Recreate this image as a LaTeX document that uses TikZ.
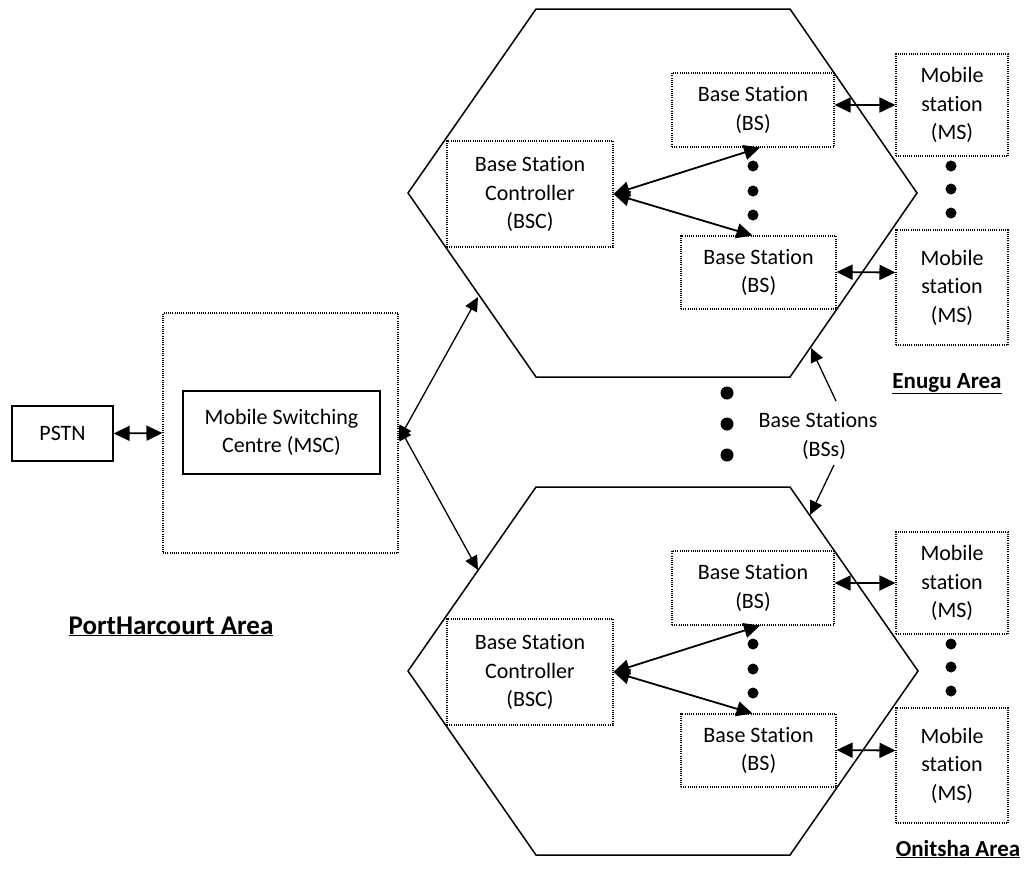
\documentclass[tikz,border=0pt]{standalone}
\usepackage{fontspec}
\setmainfont[Ligatures=NoCommon]{Carlito}
\usetikzlibrary{arrows.meta}
\tikzset{
  box/.style={draw, dash pattern=on 1pt off 1.2pt, line width=1.1pt, inner sep=0pt, align=center,
    font=\fontsize{22}{28.5}\selectfont},
  solidbox/.style={draw, line width=1.3pt, inner sep=0pt, align=center,
    font=\fontsize{22}{28.5}\selectfont},
  hex/.style={line width=1.5pt, line join=miter},
  conn/.style={line width=1.8pt, {Triangle[length=16pt,width=15pt]}-{Triangle[length=16pt,width=15pt]}},
  thinconn/.style={line width=1.3pt, {Triangle[length=14pt,width=13pt]}-{Triangle[length=14pt,width=13pt]}},
  tipconn/.style={line width=1.3pt, -{Triangle[length=14pt,width=13pt]}},
  bigdot/.style={circle, fill, inner sep=0pt, minimum size=13pt},
  smalldot/.style={circle, fill, inner sep=0pt, minimum size=11pt},
  area/.style={inner sep=0pt, font=\bfseries\fontsize{23}{28}\selectfont},
  lbl/.style={inner sep=0pt, align=center, font=\fontsize{22}{28.5}\selectfont}
}
\begin{document}
\begin{tikzpicture}[x=1pt,y=-1pt]
\useasboundingbox (0,0) rectangle (1024,873);

% hexagons
\draw[hex] (536,9) -- (790,9) -- (917,193) -- (790,377) -- (536,377) -- (408,193) -- cycle;
\draw[hex] (536,487) -- (790,487) -- (918,671) -- (790,855) -- (536,855) -- (408,671) -- cycle;

% left side
\node[solidbox, minimum width=101pt, minimum height=55pt] (pstn) at (62.5,433.5) {PSTN};
\node[box, minimum width=235pt, minimum height=240pt] (mscarea) at (280.5,433) {};
\node[solidbox, minimum width=197pt, minimum height=83pt] (msc) at (281.5,432.5) {Mobile Switching\\Centre (MSC)};
\node[area, anchor=base] (ph) at (171,634) {\fontsize{27}{30}\selectfont\underline{PortHarcourt Area}};

% top cell
\node[box, minimum width=166pt, minimum height=106pt] (bsc1) at (530,194) {Base Station\\Controller\\(BSC)};
\node[box, minimum width=162pt, minimum height=74pt] (bs11) at (753,110) {Base Station\\(BS)};
\node[box, minimum width=155pt, minimum height=73pt] (bs12) at (758.5,272.5) {Base Station\\(BS)};
\node[box, minimum width=112pt, minimum height=102pt] (ms11) at (952,105) {Mobile\\station\\(MS)};
\node[box, minimum width=112pt, minimum height=115pt] (ms12) at (952,287.5) {Mobile\\station\\(MS)};
\node[smalldot] (d11) at (753,166) {};
\node[smalldot] (d12) at (753,191) {};
\node[smalldot] (d13) at (753,215) {};
\node[smalldot] (d14) at (951,166) {};
\node[smalldot] (d15) at (951,189) {};
\node[smalldot] (d16) at (951,213) {};
\node[area, anchor=base] (enugu) at (947,388) {\underline{Enugu Area}};

% bottom cell
\node[box, minimum width=166pt, minimum height=106pt] (bsc2) at (530,672) {Base Station\\Controller\\(BSC)};
\node[box, minimum width=162pt, minimum height=74pt] (bs21) at (753,588) {Base Station\\(BS)};
\node[box, minimum width=155pt, minimum height=73pt] (bs22) at (758.5,750.5) {Base Station\\(BS)};
\node[box, minimum width=112pt, minimum height=102pt] (ms21) at (952,583) {Mobile\\station\\(MS)};
\node[box, minimum width=112pt, minimum height=115pt] (ms22) at (952,765.5) {Mobile\\station\\(MS)};
\node[smalldot] (d21) at (753,644) {};
\node[smalldot] (d22) at (753,669) {};
\node[smalldot] (d23) at (753,693) {};
\node[smalldot] (d24) at (951,644) {};
\node[smalldot] (d25) at (951,667) {};
\node[smalldot] (d26) at (951,691) {};
\node[area, anchor=base] (onitsha) at (958,856) {\underline{Onitsha Area}};

% between cells
\node[bigdot] (m1) at (727,393) {};
\node[bigdot] (m2) at (727,424) {};
\node[bigdot] (m3) at (727,455) {};
\node[lbl] (bss) at (818,436) {Base Stations\\\hspace*{12pt}(BSs)};

% connection points
\coordinate (hexA) at (478,297);
\coordinate (hexB) at (478,570);
\coordinate (hexC) at (811,348);
\coordinate (hexD) at (810,515);
\coordinate (bssA) at (836,401);
\coordinate (bssB) at (834,465);

% connectors
\draw[conn] (pstn.east) -- (mscarea.west);
\draw[thinconn] ([yshift=-7pt]mscarea.east) -- (hexA);
\draw[thinconn] ([yshift=7pt]mscarea.east) -- (hexB);
\draw[tipconn] (bssA) -- (hexC);
\draw[tipconn] (bssB) -- (hexD);

\draw[conn] (bsc1.east) -- ([xshift=7pt]bs11.south);
\draw[conn] (bsc1.east) -- ([xshift=-6pt]bs12.north);
\draw[conn] (bs11.east |- ms11.west) -- (ms11.west);
\draw[conn] ([yshift=0.5pt]bs12.east) -- (ms12.west |- bs12.east);

\draw[conn] (bsc2.east) -- ([xshift=7pt]bs21.south);
\draw[conn] (bsc2.east) -- ([xshift=-6pt]bs22.north);
\draw[conn] (bs21.east |- ms21.west) -- (ms21.west);
\draw[conn] ([yshift=0.5pt]bs22.east) -- (ms22.west |- bs22.east);
\end{tikzpicture}
\end{document}
